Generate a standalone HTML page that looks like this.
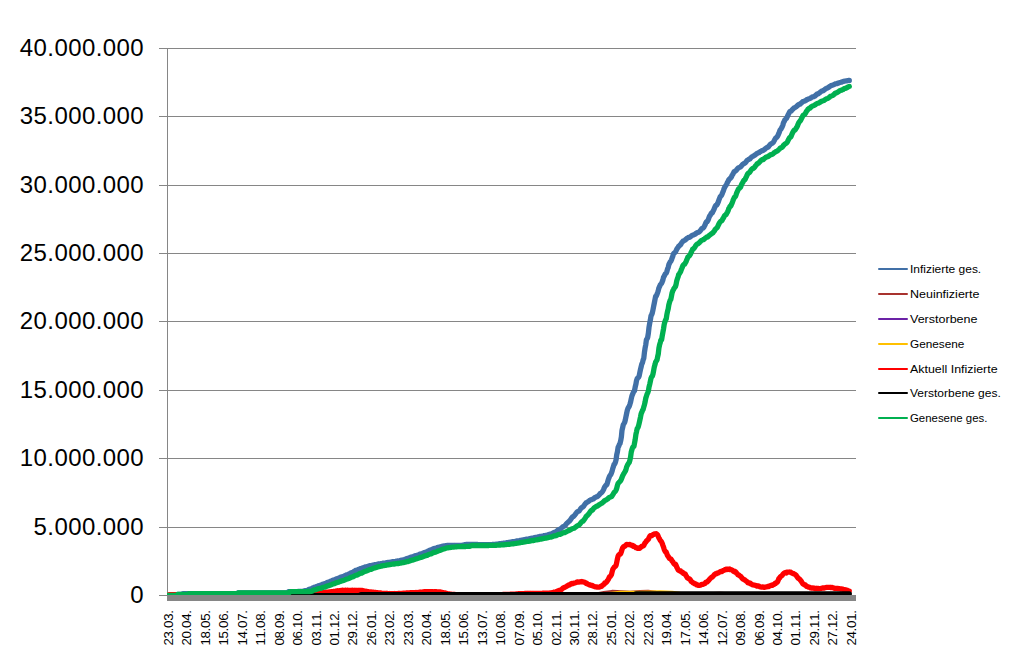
<!DOCTYPE html>
<html lang="de"><head><meta charset="utf-8"><title>Chart</title>
<style>
html,body{margin:0;padding:0;background:#fff;}
body{width:1018px;height:668px;overflow:hidden;position:relative;font-family:"Liberation Sans",sans-serif;}
svg{position:absolute;left:0;top:0;display:block;}
text{font-family:"Liberation Sans",sans-serif;fill:#000;}
.yl{font-kerning:none;font-size:24px;text-anchor:end;letter-spacing:0.42px;}
.xl{font-size:13.33px;letter-spacing:-0.3px;font-kerning:none;}
.lg{font-size:11.5px;}
.s{fill:none;stroke-width:5.3;stroke-linecap:round;stroke-linejoin:round;}
.k{fill:none;stroke-width:2;stroke-linecap:round;}
</style></head><body>
<svg width="1018" height="668" viewBox="0 0 1018 668">
<rect x="0" y="0" width="1018" height="668" fill="#ffffff"/>

<g fill="#868686" shape-rendering="crispEdges">
<rect x="159" y="48" width="697" height="1"/>
<rect x="159" y="116" width="697" height="1"/>
<rect x="159" y="185" width="697" height="1"/>
<rect x="159" y="253" width="697" height="1"/>
<rect x="159" y="321" width="697" height="1"/>
<rect x="159" y="390" width="697" height="1"/>
<rect x="159" y="458" width="697" height="1"/>
<rect x="159" y="527" width="697" height="1"/>
<rect x="159" y="595" width="697" height="1"/>
<rect x="167" y="48" width="1" height="548"/>
</g>
<clipPath id="pa"><rect x="167" y="40" width="689" height="561"/></clipPath><g clip-path="url(#pa)">
<polyline class="s" stroke="#4170A7" points="167.8,595.5 168.5,595.5 169.1,595.5 169.8,595.5 170.5,595.5 171.1,595.5 171.8,595.5 172.4,595.5 173.1,595.5 173.8,595.5 174.4,595.5 175.1,595.5 175.7,595.3 176.4,594.7 177.1,594.8 177.7,594.3 178.4,594.3 179.0,594.3 179.7,594.3 180.4,594.3 181.0,594.3 181.7,594.3 182.3,593.9 183.0,593.6 183.7,593.6 184.3,593.6 185.0,593.6 185.6,593.6 186.3,593.6 186.9,593.6 187.6,593.6 188.3,593.6 188.9,593.6 189.6,593.6 190.2,593.6 190.9,593.6 191.6,593.6 192.2,593.6 192.9,593.6 193.5,593.6 194.2,593.6 194.9,593.6 195.5,593.6 196.2,593.6 196.8,593.6 197.5,593.6 198.2,593.6 198.8,593.6 199.5,593.6 200.1,593.6 200.8,593.6 201.4,593.6 202.1,593.6 202.8,593.6 203.4,593.6 204.1,593.6 204.7,593.6 205.4,593.6 206.1,593.6 206.7,593.6 207.4,593.6 208.0,593.6 208.7,593.6 209.4,593.6 210.0,593.6 210.7,593.6 211.3,593.6 212.0,593.6 212.7,593.6 213.3,593.6 214.0,593.6 214.6,593.6 215.3,593.6 216.0,593.6 216.6,593.6 217.3,593.6 217.9,593.6 218.6,593.6 219.2,593.6 219.9,593.6 220.6,593.6 221.2,593.6 221.9,593.6 222.5,593.6 223.2,593.6 223.9,593.6 224.5,593.6 225.2,593.6 225.8,593.6 226.5,593.6 227.2,593.6 227.8,593.6 228.5,593.6 229.1,593.6 229.8,593.6 230.5,593.6 231.1,593.6 231.8,593.6 232.4,593.6 233.1,593.6 233.8,593.6 234.4,593.6 235.1,593.6 235.7,593.6 236.4,593.6 237.0,593.6 237.7,593.0 238.4,592.8 239.0,592.8 239.7,592.8 240.3,592.8 241.0,592.8 241.7,592.8 242.3,592.8 243.0,592.8 243.6,592.8 244.3,592.8 245.0,592.8 245.6,592.8 246.3,592.8 246.9,592.8 247.6,592.8 248.3,592.8 248.9,592.8 249.6,592.8 250.2,592.8 250.9,592.8 251.5,592.8 252.2,592.8 252.9,592.8 253.5,592.8 254.2,592.8 254.8,592.8 255.5,592.8 256.2,592.8 256.8,592.8 257.5,592.8 258.1,592.8 258.8,592.8 259.5,592.8 260.1,592.8 260.8,592.8 261.4,592.8 262.1,592.8 262.8,592.8 263.4,592.8 264.1,592.8 264.7,592.8 265.4,592.8 266.1,592.8 266.7,592.8 267.4,592.8 268.0,592.8 268.7,592.8 269.3,592.8 270.0,592.8 270.7,592.8 271.3,592.8 272.0,592.8 272.6,592.8 273.3,592.8 274.0,592.8 274.6,592.8 275.3,592.8 275.9,592.8 276.6,592.8 277.3,592.8 277.9,592.8 278.6,592.8 279.2,592.8 279.9,592.8 280.6,592.8 281.2,592.8 281.9,592.8 282.5,592.8 283.2,592.8 283.8,592.8 284.5,592.8 285.2,592.8 285.8,592.8 286.5,592.8 287.1,592.7 287.8,592.7 288.5,591.8 289.1,591.6 289.8,591.6 290.4,591.6 291.1,591.6 291.8,591.6 292.4,591.6 293.1,591.6 293.7,591.6 294.4,591.6 295.1,591.6 295.7,591.6 296.4,591.6 297.0,591.6 297.7,591.5 298.4,591.5 299.0,591.5 299.7,591.5 300.3,591.5 301.0,591.5 301.6,591.4 302.3,591.3 303.0,591.2 303.6,591.1 304.3,590.9 304.9,590.7 305.6,590.6 306.3,590.6 306.9,590.4 307.6,590.1 308.2,589.8 308.9,589.5 309.6,589.2 310.2,589.1 310.9,589.0 311.5,588.7 312.2,588.3 312.9,588.0 313.5,587.6 314.2,587.3 314.8,587.2 315.5,587.1 316.1,586.8 316.8,586.5 317.5,586.3 318.1,585.9 318.8,585.7 319.4,585.5 320.1,585.4 320.8,585.1 321.4,584.9 322.1,584.5 322.7,584.2 323.4,584.0 324.1,583.8 324.7,583.8 325.4,583.4 326.0,583.2 326.7,582.8 327.4,582.5 328.0,582.2 328.7,582.0 329.3,582.0 330.0,581.7 330.7,581.2 331.3,580.9 332.0,580.6 332.6,580.3 333.3,580.1 333.9,580.0 334.6,579.8 335.3,579.4 335.9,579.1 336.6,578.8 337.2,578.5 337.9,578.4 338.6,578.3 339.2,577.9 339.9,577.7 340.5,577.3 341.2,577.0 341.9,576.8 342.5,576.7 343.2,576.6 343.8,576.3 344.5,576.0 345.2,575.5 345.8,575.3 346.5,574.9 347.1,574.8 347.8,574.7 348.5,574.4 349.1,573.9 349.8,573.5 350.4,573.1 351.1,572.9 351.7,572.5 352.4,572.4 353.1,572.2 353.7,571.7 354.4,571.1 355.0,570.8 355.7,570.4 356.4,570.2 357.0,570.2 357.7,569.8 358.3,569.6 359.0,569.2 359.7,568.9 360.3,568.6 361.0,568.5 361.6,568.4 362.3,568.1 363.0,567.8 363.6,567.5 364.3,567.3 364.9,567.1 365.6,566.9 366.2,566.9 366.9,566.7 367.6,566.4 368.2,566.2 368.9,565.9 369.5,565.7 370.2,565.7 370.9,565.6 371.5,565.5 372.2,565.3 372.8,565.1 373.5,565.0 374.2,564.8 374.8,564.7 375.5,564.7 376.1,564.5 376.8,564.4 377.5,564.2 378.1,564.0 378.8,564.0 379.4,563.9 380.1,563.8 380.8,563.7 381.4,563.5 382.1,563.4 382.7,563.3 383.4,563.1 384.0,563.1 384.7,563.0 385.4,562.9 386.0,562.8 386.7,562.7 387.3,562.5 388.0,562.4 388.7,562.4 389.3,562.3 390.0,562.2 390.6,562.1 391.3,562.0 392.0,561.8 392.6,561.7 393.3,561.7 393.9,561.6 394.6,561.5 395.3,561.4 395.9,561.3 396.6,561.1 397.2,561.0 397.9,561.0 398.6,560.9 399.2,560.8 399.9,560.6 400.5,560.4 401.2,560.2 401.8,560.1 402.5,560.0 403.2,559.9 403.8,559.7 404.5,559.5 405.1,559.2 405.8,559.0 406.5,558.7 407.1,558.6 407.8,558.4 408.4,558.3 409.1,558.0 409.8,557.6 410.4,557.3 411.1,557.1 411.7,557.0 412.4,556.8 413.1,556.6 413.7,556.4 414.4,556.0 415.0,555.8 415.7,555.6 416.3,555.5 417.0,555.3 417.7,555.2 418.3,554.9 419.0,554.6 419.6,554.2 420.3,554.1 421.0,553.9 421.6,553.7 422.3,553.5 422.9,553.2 423.6,552.9 424.3,552.7 424.9,552.3 425.6,552.2 426.2,552.0 426.9,551.7 427.6,551.5 428.2,550.9 428.9,550.6 429.5,550.3 430.2,550.1 430.9,550.0 431.5,549.7 432.2,549.3 432.8,549.0 433.5,548.7 434.1,548.5 434.8,548.3 435.5,548.3 436.1,548.0 436.8,547.8 437.4,547.6 438.1,547.3 438.8,547.2 439.4,547.1 440.1,546.9 440.7,546.7 441.4,546.5 442.1,546.3 442.7,546.1 443.4,546.0 444.0,545.9 444.7,545.9 445.4,545.8 446.0,545.6 446.7,545.5 447.3,545.5 448.0,545.5 448.6,545.5 449.3,545.5 450.0,545.5 450.6,545.5 451.3,545.5 451.9,545.5 452.6,545.5 453.3,545.5 453.9,545.5 454.6,545.5 455.2,545.4 455.9,545.4 456.6,545.4 457.2,545.4 457.9,545.4 458.5,545.4 459.2,545.4 459.9,545.4 460.5,545.4 461.2,545.3 461.8,545.3 462.5,545.2 463.2,545.2 463.8,545.1 464.5,544.8 465.1,544.6 465.8,544.5 466.4,544.5 467.1,544.5 467.8,544.5 468.4,544.5 469.1,544.5 469.7,544.5 470.4,544.5 471.1,544.5 471.7,544.5 472.4,544.5 473.0,544.5 473.7,544.5 474.4,544.5 475.0,544.5 475.7,544.5 476.3,544.5 477.0,544.5 477.7,544.5 478.3,544.6 479.0,544.6 479.6,544.6 480.3,544.6 481.0,544.6 481.6,544.6 482.3,544.6 482.9,544.6 483.6,544.6 484.2,544.6 484.9,544.6 485.6,544.6 486.2,544.6 486.9,544.6 487.5,544.6 488.2,544.6 488.9,544.6 489.5,544.6 490.2,544.6 490.8,544.6 491.5,544.6 492.2,544.5 492.8,544.5 493.5,544.4 494.1,544.4 494.8,544.3 495.5,544.3 496.1,544.2 496.8,544.1 497.4,544.0 498.1,543.9 498.7,543.8 499.4,543.7 500.1,543.7 500.7,543.6 501.4,543.5 502.0,543.4 502.7,543.3 503.4,543.2 504.0,543.1 504.7,543.1 505.3,543.0 506.0,542.9 506.7,542.7 507.3,542.6 508.0,542.5 508.6,542.4 509.3,542.4 510.0,542.3 510.6,542.1 511.3,542.0 511.9,541.8 512.6,541.7 513.3,541.7 513.9,541.6 514.6,541.5 515.2,541.4 515.9,541.2 516.5,541.1 517.2,540.9 517.9,540.8 518.5,540.8 519.2,540.7 519.8,540.6 520.5,540.3 521.2,540.2 521.8,540.1 522.5,540.0 523.1,540.0 523.8,539.8 524.5,539.6 525.1,539.5 525.8,539.3 526.4,539.2 527.1,539.1 527.8,539.1 528.4,539.0 529.1,538.8 529.7,538.6 530.4,538.5 531.0,538.3 531.7,538.3 532.4,538.1 533.0,538.0 533.7,537.9 534.3,537.7 535.0,537.6 535.7,537.4 536.3,537.3 537.0,537.2 537.6,537.1 538.3,536.9 539.0,536.7 539.6,536.6 540.3,536.4 540.9,536.4 541.6,536.3 542.3,536.2 542.9,536.0 543.6,535.8 544.2,535.6 544.9,535.5 545.6,535.4 546.2,535.4 546.9,535.2 547.5,535.0 548.2,534.7 548.8,534.5 549.5,534.3 550.2,534.2 550.8,534.0 551.5,533.8 552.1,533.5 552.8,533.1 553.5,532.8 554.1,532.4 554.8,532.3 555.4,532.0 556.1,531.7 556.8,531.2 557.4,530.6 558.1,530.0 558.7,529.7 559.4,529.4 560.1,529.3 560.7,528.8 561.4,528.1 562.0,527.5 562.7,526.9 563.4,526.4 564.0,526.2 564.7,526.0 565.3,525.2 566.0,524.4 566.6,523.5 567.3,522.8 568.0,522.3 568.6,521.6 569.3,521.5 569.9,520.5 570.6,519.6 571.3,518.5 571.9,517.8 572.6,516.8 573.2,516.7 573.9,515.9 574.6,515.3 575.2,514.4 575.9,513.4 576.5,512.7 577.2,511.8 577.9,511.3 578.5,511.3 579.2,510.8 579.8,510.0 580.5,509.0 581.1,508.0 581.8,507.6 582.5,507.1 583.1,506.8 583.8,506.0 584.4,505.0 585.1,504.0 585.8,503.2 586.4,502.5 587.1,502.3 587.7,501.9 588.4,501.5 589.1,500.9 589.7,500.4 590.4,500.0 591.0,499.6 591.7,499.6 592.4,499.3 593.0,499.1 593.7,498.7 594.3,498.0 595.0,497.5 595.7,497.2 596.3,496.9 597.0,496.7 597.6,496.3 598.3,495.8 598.9,495.1 599.6,494.4 600.3,493.4 600.9,493.1 601.6,492.6 602.2,491.9 602.9,490.8 603.6,489.5 604.2,487.9 604.9,486.6 605.5,485.8 606.2,485.0 606.9,484.5 607.5,482.4 608.2,479.9 608.8,478.3 609.5,476.3 610.2,475.2 610.8,474.7 611.5,472.8 612.1,471.1 612.8,468.4 613.4,466.7 614.1,464.3 614.8,463.8 615.4,462.3 616.1,459.6 616.7,454.8 617.4,451.8 618.1,447.3 618.7,446.2 619.4,444.4 620.0,443.5 620.7,440.7 621.4,436.8 622.0,430.3 622.7,427.3 623.3,424.7 624.0,423.6 624.7,422.3 625.3,420.0 626.0,416.5 626.6,413.6 627.3,410.4 628.0,408.2 628.6,407.3 629.3,406.1 629.9,404.3 630.6,402.0 631.2,399.0 631.9,396.0 632.6,394.2 633.2,392.7 633.9,391.5 634.5,390.8 635.2,387.0 635.9,384.2 636.5,380.6 637.2,378.7 637.8,377.9 638.5,377.3 639.2,375.8 639.8,372.7 640.5,369.4 641.1,367.0 641.8,364.0 642.5,362.7 643.1,360.0 643.8,358.2 644.4,352.7 645.1,348.0 645.8,344.4 646.4,339.8 647.1,338.8 647.7,337.2 648.4,333.0 649.0,327.4 649.7,323.3 650.4,319.8 651.0,315.9 651.7,314.7 652.3,313.0 653.0,309.7 653.7,306.0 654.3,303.1 655.0,299.6 655.6,296.4 656.3,296.0 657.0,294.2 657.6,292.6 658.3,290.5 658.9,287.9 659.6,286.6 660.3,284.8 660.9,284.0 661.6,283.3 662.2,281.9 662.9,280.0 663.5,277.4 664.2,276.2 664.9,274.7 665.5,273.6 666.2,273.1 666.8,271.7 667.5,269.1 668.2,267.4 668.8,264.7 669.5,263.3 670.1,262.1 670.8,261.3 671.5,259.9 672.1,258.0 672.8,256.2 673.4,254.1 674.1,253.1 674.8,252.6 675.4,252.0 676.1,250.7 676.7,249.4 677.4,248.2 678.1,247.2 678.7,246.3 679.4,245.9 680.0,245.0 680.7,244.7 681.3,243.4 682.0,242.3 682.7,241.7 683.3,240.9 684.0,240.6 684.6,240.3 685.3,239.9 686.0,239.3 686.6,238.7 687.3,238.1 687.9,237.8 688.6,237.4 689.3,237.4 689.9,237.1 690.6,236.6 691.2,236.0 691.9,235.6 692.6,235.1 693.2,235.0 693.9,234.7 694.5,234.5 695.2,234.1 695.8,233.5 696.5,233.2 697.2,232.6 697.8,232.5 698.5,232.3 699.1,232.0 699.8,231.2 700.5,230.4 701.1,229.6 701.8,228.7 702.4,228.4 703.1,228.1 703.8,227.3 704.4,226.1 705.1,224.7 705.7,223.1 706.4,221.9 707.1,221.7 707.7,220.8 708.4,219.3 709.0,217.5 709.7,215.9 710.4,215.1 711.0,213.8 711.7,212.8 712.3,212.8 713.0,211.3 713.6,210.2 714.3,208.6 715.0,206.8 715.6,205.5 716.3,205.5 716.9,204.9 717.6,203.5 718.3,201.9 718.9,199.9 719.6,198.2 720.2,196.8 720.9,196.0 721.6,195.2 722.2,193.8 722.9,191.9 723.5,190.4 724.2,188.3 724.9,187.0 725.5,186.0 726.2,185.0 726.8,184.0 727.5,182.2 728.2,181.1 728.8,179.7 729.5,178.9 730.1,178.5 730.8,177.6 731.4,177.1 732.1,175.3 732.8,174.3 733.4,173.1 734.1,171.7 734.7,171.6 735.4,170.9 736.1,170.6 736.7,169.7 737.4,168.8 738.0,168.2 738.7,167.7 739.4,167.4 740.0,167.1 740.7,166.7 741.3,166.0 742.0,165.2 742.7,164.3 743.3,164.0 744.0,163.4 744.6,163.3 745.3,162.7 745.9,162.0 746.6,161.1 747.3,160.3 747.9,159.9 748.6,159.4 749.2,159.3 749.9,158.9 750.6,158.1 751.2,157.4 751.9,156.8 752.5,156.5 753.2,156.1 753.9,155.8 754.5,155.3 755.2,155.0 755.8,154.4 756.5,153.8 757.2,153.4 757.8,153.1 758.5,152.8 759.1,152.6 759.8,151.9 760.5,151.6 761.1,151.1 761.8,150.8 762.4,150.6 763.1,150.4 763.7,150.1 764.4,149.5 765.1,149.0 765.7,148.3 766.4,147.8 767.0,147.6 767.7,147.3 768.4,146.9 769.0,145.9 769.7,145.2 770.3,144.4 771.0,143.9 771.7,143.4 772.3,143.2 773.0,142.6 773.6,141.8 774.3,140.5 775.0,139.1 775.6,138.2 776.3,137.7 776.9,137.0 777.6,136.2 778.2,134.9 778.9,133.3 779.6,131.3 780.2,129.9 780.9,129.2 781.5,128.1 782.2,126.7 782.9,125.0 783.5,122.6 784.2,121.5 784.8,120.0 785.5,119.2 786.2,118.6 786.8,117.8 787.5,116.2 788.1,115.0 788.8,113.5 789.5,112.2 790.1,111.4 790.8,111.4 791.4,110.8 792.1,109.8 792.8,109.2 793.4,108.5 794.1,107.8 794.7,107.7 795.4,107.3 796.0,106.9 796.7,106.3 797.4,105.6 798.0,105.1 798.7,104.5 799.3,104.3 800.0,104.2 800.7,103.6 801.3,103.1 802.0,102.4 802.6,101.8 803.3,101.5 804.0,101.3 804.6,101.1 805.3,100.7 805.9,100.4 806.6,99.8 807.3,99.5 807.9,99.1 808.6,99.0 809.2,98.7 809.9,98.5 810.6,98.1 811.2,97.6 811.9,97.3 812.5,96.9 813.2,96.7 813.8,96.7 814.5,96.3 815.2,95.9 815.8,95.1 816.5,94.7 817.1,94.0 817.8,94.0 818.5,93.5 819.1,93.1 819.8,92.7 820.4,92.1 821.1,91.5 821.8,91.1 822.4,90.9 823.1,90.7 823.7,90.3 824.4,89.9 825.1,89.2 825.7,88.7 826.4,88.4 827.0,88.1 827.7,87.9 828.3,87.5 829.0,87.0 829.7,86.4 830.3,86.1 831.0,85.6 831.6,85.4 832.3,85.2 833.0,85.0 833.6,84.8 834.3,84.4 834.9,84.1 835.6,83.8 836.3,83.7 836.9,83.6 837.6,83.4 838.2,83.1 838.9,82.9 839.6,82.6 840.2,82.3 840.9,82.3 841.5,82.1 842.2,81.9 842.9,81.6 843.5,81.4 844.2,81.2 844.8,81.1 845.5,81.0 846.1,80.9 846.8,80.8 847.5,80.7 848.1,80.5 848.8,80.4 849.3,80.4"/>
<polyline class="s" stroke="#A8322E" points="167.0,595.5 595.0,595.3 604.0,593.7 612.0,592.5 622.0,592.9 630.0,593.5 640.0,592.7 648.0,592.5 656.0,593.5 668.0,594.7 690.0,595.0 700.0,595.1 720.0,594.5 740.0,595.3 770.0,595.4 790.0,594.8 810.0,595.1 848.3,595.3"/>
<polyline class="s" stroke="#6B22A6" points="167.0,595.5 848.3,595.5"/>
<polyline class="s" stroke="#FFC000" points="167.0,595.5 600.0,595.4 612.0,594.3 620.0,593.5 632.0,593.3 640.0,593.5 650.0,593.1 660.0,592.9 672.0,593.3 680.0,594.3 690.0,595.3 705.0,595.4 725.0,594.7 745.0,595.1 770.0,595.0 795.0,594.9 815.0,595.1 848.3,595.3"/>
<polyline class="s" stroke="#FF0000" points="167.8,595.6 168.5,595.5 169.1,595.0 169.8,594.6 170.5,594.6 171.1,594.6 171.8,594.6 172.4,594.6 173.1,594.6 173.8,594.6 174.4,594.6 175.1,594.6 175.7,594.6 176.4,594.8 177.1,595.0 177.7,595.4 178.4,595.4 179.0,595.4 179.7,595.4 180.4,595.4 181.0,595.4 181.7,595.4 182.3,595.4 183.0,595.5 183.7,595.5 184.3,595.5 185.0,595.5 185.6,595.5 186.3,595.5 186.9,595.5 187.6,595.5 188.3,595.5 188.9,595.5 189.6,595.5 190.2,595.5 190.9,595.5 191.6,595.5 192.2,595.5 192.9,595.5 193.5,595.5 194.2,595.5 194.9,595.5 195.5,595.5 196.2,595.5 196.8,595.5 197.5,595.5 198.2,595.5 198.8,595.5 199.5,595.5 200.1,595.5 200.8,595.5 201.4,595.5 202.1,595.5 202.8,595.5 203.4,595.5 204.1,595.5 204.7,595.5 205.4,595.5 206.1,595.5 206.7,595.5 207.4,595.5 208.0,595.5 208.7,595.5 209.4,595.5 210.0,595.5 210.7,595.5 211.3,595.5 212.0,595.5 212.7,595.5 213.3,595.5 214.0,595.5 214.6,595.5 215.3,595.5 216.0,595.5 216.6,595.5 217.3,595.5 217.9,595.5 218.6,595.5 219.2,595.5 219.9,595.5 220.6,595.5 221.2,595.5 221.9,595.5 222.5,595.5 223.2,595.5 223.9,595.5 224.5,595.5 225.2,595.5 225.8,595.5 226.5,595.5 227.2,595.5 227.8,595.5 228.5,595.5 229.1,595.5 229.8,595.5 230.5,595.5 231.1,595.5 231.8,595.5 232.4,595.5 233.1,595.5 233.8,595.5 234.4,595.5 235.1,595.5 235.7,595.5 236.4,595.5 237.0,595.4 237.7,595.4 238.4,595.4 239.0,595.4 239.7,595.4 240.3,595.4 241.0,595.4 241.7,595.4 242.3,595.4 243.0,595.4 243.6,595.4 244.3,595.4 245.0,595.4 245.6,595.4 246.3,595.4 246.9,595.4 247.6,595.4 248.3,595.4 248.9,595.4 249.6,595.4 250.2,595.4 250.9,595.4 251.5,595.4 252.2,595.4 252.9,595.4 253.5,595.4 254.2,595.4 254.8,595.4 255.5,595.4 256.2,595.4 256.8,595.4 257.5,595.4 258.1,595.4 258.8,595.4 259.5,595.3 260.1,595.4 260.8,595.3 261.4,595.3 262.1,595.3 262.8,595.3 263.4,595.3 264.1,595.3 264.7,595.3 265.4,595.3 266.1,595.3 266.7,595.3 267.4,595.3 268.0,595.3 268.7,595.3 269.3,595.3 270.0,595.3 270.7,595.3 271.3,595.3 272.0,595.3 272.6,595.3 273.3,595.3 274.0,595.3 274.6,595.3 275.3,595.2 275.9,595.2 276.6,595.2 277.3,595.2 277.9,595.2 278.6,595.2 279.2,595.2 279.9,595.2 280.6,595.2 281.2,595.2 281.9,595.2 282.5,595.2 283.2,595.2 283.8,595.2 284.5,595.2 285.2,595.2 285.8,595.1 286.5,595.2 287.1,595.1 287.8,595.1 288.5,595.1 289.1,595.1 289.8,595.1 290.4,595.1 291.1,595.1 291.8,595.1 292.4,595.1 293.1,595.1 293.7,595.1 294.4,595.1 295.1,595.1 295.7,595.1 296.4,595.0 297.0,595.0 297.7,595.0 298.4,595.0 299.0,595.0 299.7,595.0 300.3,595.0 301.0,595.0 301.6,595.0 302.3,594.9 303.0,594.9 303.6,594.9 304.3,594.8 304.9,594.8 305.6,594.7 306.3,594.7 306.9,594.7 307.6,594.6 308.2,594.5 308.9,594.4 309.6,594.4 310.2,594.3 310.9,594.3 311.5,594.2 312.2,594.2 312.9,594.1 313.5,594.0 314.2,593.9 314.8,593.9 315.5,593.8 316.1,593.7 316.8,593.5 317.5,593.3 318.1,593.3 318.8,593.2 319.4,593.2 320.1,593.0 320.8,593.0 321.4,593.0 322.1,592.8 322.7,592.7 323.4,592.7 324.1,592.5 324.7,592.5 325.4,592.5 326.0,592.4 326.7,592.3 327.4,592.1 328.0,592.1 328.7,592.0 329.3,592.0 330.0,592.0 330.7,591.8 331.3,591.7 332.0,591.8 332.6,591.7 333.3,591.5 333.9,591.5 334.6,591.4 335.3,591.3 335.9,591.2 336.6,590.9 337.2,591.0 337.9,590.7 338.6,590.9 339.2,590.8 339.9,590.6 340.5,590.5 341.2,590.4 341.9,590.4 342.5,590.2 343.2,590.3 343.8,590.4 344.5,590.4 345.2,590.2 345.8,590.2 346.5,590.4 347.1,590.3 347.8,590.2 348.5,590.4 349.1,590.3 349.8,590.4 350.4,590.3 351.1,590.3 351.7,590.3 352.4,590.2 353.1,590.4 353.7,590.4 354.4,590.4 355.0,590.5 355.7,590.3 356.4,590.5 357.0,590.5 357.7,590.4 358.3,590.5 359.0,590.4 359.7,590.6 360.3,590.4 361.0,590.6 361.6,590.5 362.3,590.5 363.0,590.8 363.6,590.9 364.3,591.1 364.9,591.2 365.6,591.3 366.2,591.2 366.9,591.4 367.6,591.5 368.2,591.7 368.9,591.8 369.5,591.9 370.2,592.0 370.9,591.9 371.5,592.0 372.2,592.1 372.8,592.1 373.5,592.3 374.2,592.3 374.8,592.3 375.5,592.4 376.1,592.5 376.8,592.6 377.5,592.7 378.1,592.8 378.8,592.9 379.4,592.9 380.1,593.0 380.8,593.0 381.4,593.2 382.1,593.3 382.7,593.4 383.4,593.4 384.0,593.5 384.7,593.4 385.4,593.4 386.0,593.5 386.7,593.5 387.3,593.4 388.0,593.5 388.7,593.6 389.3,593.5 390.0,593.6 390.6,593.6 391.3,593.6 392.0,593.6 392.6,593.6 393.3,593.6 393.9,593.6 394.6,593.5 395.3,593.6 395.9,593.6 396.6,593.6 397.2,593.6 397.9,593.5 398.6,593.5 399.2,593.5 399.9,593.4 400.5,593.5 401.2,593.4 401.8,593.3 402.5,593.3 403.2,593.2 403.8,593.2 404.5,593.2 405.1,593.1 405.8,593.0 406.5,592.9 407.1,593.0 407.8,592.9 408.4,592.9 409.1,592.8 409.8,592.8 410.4,592.7 411.1,592.7 411.7,592.7 412.4,592.7 413.1,592.6 413.7,592.7 414.4,592.6 415.0,592.6 415.7,592.5 416.3,592.5 417.0,592.6 417.7,592.5 418.3,592.4 419.0,592.4 419.6,592.2 420.3,592.3 421.0,592.1 421.6,592.1 422.3,592.1 422.9,591.8 423.6,591.8 424.3,591.7 424.9,591.8 425.6,591.7 426.2,591.7 426.9,591.6 427.6,591.7 428.2,591.7 428.9,591.7 429.5,591.7 430.2,591.6 430.9,591.7 431.5,591.7 432.2,591.7 432.8,591.8 433.5,591.8 434.1,591.7 434.8,591.7 435.5,591.8 436.1,591.7 436.8,591.8 437.4,591.8 438.1,591.8 438.8,591.8 439.4,591.8 440.1,591.9 440.7,592.0 441.4,592.2 442.1,592.4 442.7,592.6 443.4,592.7 444.0,592.9 444.7,592.9 445.4,593.1 446.0,593.3 446.7,593.4 447.3,593.6 448.0,593.8 448.6,593.8 449.3,593.9 450.0,594.0 450.6,594.1 451.3,594.3 451.9,594.4 452.6,594.4 453.3,594.5 453.9,594.4 454.6,594.5 455.2,594.5 455.9,594.6 456.6,594.6 457.2,594.7 457.9,594.7 458.5,594.7 459.2,594.7 459.9,594.8 460.5,594.8 461.2,594.8 461.8,594.8 462.5,594.9 463.2,594.9 463.8,594.9 464.5,594.9 465.1,594.9 465.8,595.0 466.4,595.0 467.1,595.0 467.8,595.0 468.4,595.0 469.1,595.0 469.7,595.0 470.4,595.0 471.1,595.0 471.7,595.0 472.4,595.0 473.0,595.0 473.7,595.0 474.4,595.0 475.0,595.0 475.7,595.0 476.3,595.0 477.0,595.0 477.7,595.0 478.3,595.0 479.0,594.9 479.6,595.0 480.3,594.9 481.0,594.9 481.6,594.9 482.3,594.9 482.9,594.9 483.6,594.9 484.2,594.9 484.9,594.9 485.6,594.9 486.2,594.9 486.9,594.9 487.5,594.8 488.2,594.8 488.9,594.8 489.5,594.8 490.2,594.8 490.8,594.8 491.5,594.8 492.2,594.8 492.8,594.7 493.5,594.7 494.1,594.7 494.8,594.7 495.5,594.7 496.1,594.7 496.8,594.7 497.4,594.6 498.1,594.6 498.7,594.6 499.4,594.6 500.1,594.6 500.7,594.6 501.4,594.6 502.0,594.6 502.7,594.5 503.4,594.5 504.0,594.5 504.7,594.5 505.3,594.5 506.0,594.4 506.7,594.4 507.3,594.4 508.0,594.3 508.6,594.3 509.3,594.3 510.0,594.3 510.6,594.2 511.3,594.2 511.9,594.2 512.6,594.2 513.3,594.2 513.9,594.1 514.6,594.1 515.2,594.0 515.9,593.9 516.5,593.8 517.2,593.8 517.9,593.8 518.5,593.7 519.2,593.6 519.8,593.6 520.5,593.6 521.2,593.6 521.8,593.6 522.5,593.6 523.1,593.6 523.8,593.6 524.5,593.5 525.1,593.5 525.8,593.5 526.4,593.5 527.1,593.5 527.8,593.5 528.4,593.4 529.1,593.5 529.7,593.4 530.4,593.5 531.0,593.4 531.7,593.5 532.4,593.4 533.0,593.5 533.7,593.4 534.3,593.4 535.0,593.4 535.7,593.4 536.3,593.4 537.0,593.4 537.6,593.4 538.3,593.4 539.0,593.3 539.6,593.3 540.3,593.3 540.9,593.3 541.6,593.3 542.3,593.3 542.9,593.2 543.6,593.3 544.2,593.2 544.9,593.1 545.6,593.2 546.2,593.1 546.9,593.2 547.5,593.1 548.2,593.1 548.8,593.1 549.5,593.0 550.2,592.9 550.8,592.9 551.5,592.8 552.1,592.8 552.8,592.5 553.5,592.3 554.1,592.1 554.8,592.1 555.4,592.0 556.1,591.8 556.8,591.5 557.4,591.1 558.1,590.8 558.7,590.5 559.4,590.5 560.1,590.2 560.7,590.1 561.4,589.6 562.0,589.0 562.7,588.3 563.4,587.9 564.0,587.6 564.7,587.4 565.3,587.0 566.0,586.8 566.6,586.3 567.3,585.9 568.0,585.4 568.6,585.0 569.3,585.2 569.9,584.6 570.6,584.0 571.3,584.1 571.9,583.5 572.6,583.7 573.2,583.5 573.9,583.1 574.6,583.0 575.2,582.9 575.9,582.6 576.5,582.3 577.2,582.0 577.9,582.0 578.5,582.2 579.2,581.9 579.8,581.9 580.5,581.9 581.1,581.6 581.8,581.5 582.5,581.9 583.1,581.8 583.8,582.1 584.4,582.1 585.1,582.5 585.8,583.1 586.4,583.7 587.1,583.5 587.7,584.1 588.4,584.4 589.1,584.7 589.7,585.1 590.4,585.0 591.0,585.2 591.7,585.5 592.4,585.5 593.0,585.9 593.7,586.4 594.3,586.4 595.0,586.9 595.7,586.9 596.3,586.8 597.0,587.1 597.6,587.1 598.3,587.1 598.9,587.1 599.6,587.1 600.3,586.6 600.9,586.2 601.6,586.3 602.2,585.5 602.9,585.1 603.6,584.4 604.2,584.2 604.9,582.8 605.5,582.9 606.2,582.4 606.9,581.5 607.5,580.7 608.2,579.6 608.8,578.3 609.5,576.7 610.2,576.5 610.8,575.6 611.5,574.5 612.1,571.9 612.8,569.4 613.4,568.4 614.1,567.3 614.8,566.7 615.4,566.4 616.1,565.2 616.7,562.5 617.4,559.0 618.1,556.2 618.7,555.0 619.4,554.3 620.0,554.4 620.7,553.7 621.4,551.7 622.0,549.6 622.7,547.8 623.3,547.0 624.0,546.5 624.7,546.2 625.3,545.8 626.0,545.0 626.6,544.4 627.3,544.7 628.0,544.5 628.6,544.6 629.3,544.5 629.9,544.4 630.6,545.0 631.2,545.0 631.9,545.6 632.6,545.4 633.2,546.3 633.9,546.0 634.5,546.6 635.2,547.1 635.9,547.7 636.5,547.8 637.2,547.9 637.8,548.4 638.5,548.1 639.2,548.4 639.8,548.2 640.5,547.5 641.1,547.1 641.8,546.3 642.5,546.1 643.1,546.1 643.8,545.5 644.4,544.1 645.1,542.8 645.8,542.1 646.4,541.1 647.1,540.5 647.7,539.8 648.4,539.2 649.0,537.7 649.7,536.4 650.4,535.7 651.0,535.6 651.7,535.6 652.3,535.1 653.0,534.6 653.7,534.4 654.3,533.8 655.0,533.9 655.6,533.8 656.3,533.7 657.0,534.3 657.6,534.9 658.3,536.5 658.9,537.9 659.6,539.0 660.3,540.5 660.9,541.0 661.6,542.0 662.2,543.3 662.9,545.4 663.5,547.0 664.2,549.3 664.9,550.8 665.5,551.8 666.2,552.0 666.8,553.8 667.5,555.5 668.2,556.5 668.8,557.2 669.5,558.6 670.1,558.8 670.8,559.0 671.5,559.9 672.1,561.2 672.8,561.7 673.4,562.9 674.1,563.8 674.8,564.4 675.4,564.2 676.1,565.4 676.7,567.0 677.4,568.4 678.1,569.8 678.7,570.4 679.4,570.7 680.0,571.0 680.7,571.0 681.3,572.0 682.0,572.2 682.7,572.4 683.3,573.4 684.0,573.6 684.6,573.9 685.3,574.1 686.0,575.6 686.6,576.5 687.3,577.8 687.9,578.1 688.6,578.6 689.3,578.8 689.9,579.3 690.6,580.3 691.2,581.4 691.9,581.8 692.6,582.3 693.2,583.0 693.9,583.1 694.5,583.6 695.2,583.6 695.8,584.0 696.5,584.9 697.2,584.6 697.8,585.2 698.5,585.4 699.1,585.4 699.8,585.3 700.5,585.1 701.1,584.8 701.8,584.4 702.4,584.4 703.1,584.3 703.8,583.8 704.4,583.8 705.1,583.4 705.7,582.4 706.4,582.0 707.1,581.9 707.7,581.4 708.4,580.7 709.0,580.1 709.7,579.1 710.4,578.4 711.0,577.8 711.7,577.1 712.3,577.1 713.0,576.2 713.6,575.7 714.3,574.6 715.0,574.4 715.6,573.7 716.3,573.9 716.9,573.2 717.6,573.3 718.3,572.9 718.9,572.6 719.6,572.0 720.2,571.7 720.9,571.4 721.6,571.6 722.2,571.3 722.9,570.7 723.5,570.3 724.2,570.3 724.9,569.7 725.5,569.3 726.2,569.2 726.8,569.5 727.5,569.2 728.2,569.1 728.8,569.1 729.5,569.0 730.1,569.7 730.8,569.5 731.4,569.8 732.1,570.1 732.8,570.4 733.4,571.3 734.1,571.7 734.7,571.3 735.4,571.6 736.1,572.3 736.7,573.4 737.4,573.8 738.0,574.8 738.7,575.0 739.4,575.5 740.0,576.0 740.7,576.4 741.3,577.1 742.0,578.0 742.7,578.9 743.3,579.3 744.0,579.5 744.6,579.7 745.3,580.5 745.9,580.8 746.6,581.3 747.3,581.9 747.9,582.8 748.6,583.0 749.2,582.8 749.9,583.0 750.6,583.5 751.2,584.2 751.9,584.3 752.5,584.8 753.2,584.9 753.9,585.0 754.5,585.2 755.2,585.3 755.8,585.3 756.5,585.9 757.2,586.2 757.8,586.1 758.5,585.9 759.1,586.4 759.8,586.7 760.5,586.9 761.1,586.9 761.8,587.2 762.4,586.9 763.1,587.1 763.7,587.3 764.4,587.3 765.1,587.2 765.7,587.0 766.4,586.9 767.0,586.7 767.7,586.5 768.4,586.7 769.0,586.3 769.7,585.9 770.3,585.7 771.0,585.3 771.7,585.2 772.3,585.4 773.0,584.9 773.6,584.5 774.3,584.4 775.0,583.3 775.6,583.4 776.3,582.6 776.9,582.5 777.6,581.7 778.2,580.3 778.9,578.6 779.6,578.0 780.2,576.9 780.9,576.3 781.5,576.0 782.2,575.3 782.9,574.3 783.5,573.7 784.2,573.1 784.8,572.7 785.5,572.9 786.2,573.0 786.8,572.1 787.5,572.2 788.1,572.1 788.8,572.2 789.5,572.0 790.1,572.1 790.8,572.2 791.4,572.7 792.1,573.1 792.8,573.5 793.4,573.5 794.1,574.0 794.7,574.2 795.4,574.7 796.0,575.0 796.7,576.3 797.4,577.3 798.0,578.0 798.7,578.5 799.3,579.0 800.0,579.6 800.7,580.5 801.3,581.2 802.0,582.5 802.6,583.5 803.3,584.0 804.0,584.5 804.6,584.8 805.3,584.9 805.9,585.5 806.6,586.5 807.3,586.6 807.9,586.8 808.6,587.2 809.2,587.2 809.9,587.3 810.6,587.9 811.2,587.9 811.9,588.2 812.5,588.0 813.2,588.0 813.8,588.4 814.5,588.2 815.2,588.5 815.8,588.4 816.5,588.6 817.1,588.3 817.8,588.4 818.5,588.6 819.1,588.7 819.8,588.6 820.4,588.5 821.1,588.4 821.8,588.4 822.4,588.0 823.1,588.0 823.7,588.0 824.4,588.0 825.1,587.8 825.7,587.5 826.4,587.4 827.0,587.4 827.7,587.4 828.3,587.3 829.0,587.4 829.7,587.4 830.3,587.5 831.0,587.4 831.6,587.7 832.3,587.5 833.0,587.7 833.6,587.9 834.3,588.3 834.9,588.4 835.6,588.4 836.3,588.4 836.9,588.3 837.6,588.5 838.2,588.5 838.9,588.7 839.6,588.7 840.2,589.0 840.9,589.0 841.5,589.0 842.2,589.0 842.9,589.1 843.5,589.5 844.2,589.7 844.8,589.8 845.5,590.0 846.1,589.9 846.8,590.2 847.5,590.4 848.1,590.8 848.8,591.0 849.3,591.1"/>
<polyline class="s" stroke="#000000" points="167.0,596.0 311.0,596.0 313.0,595.6 359.0,595.6 361.0,594.7 634.0,594.7 636.0,593.8 849.3,593.8"/>
<polyline class="s" stroke="#00B050" points="167.8,595.5 168.5,595.5 169.1,595.5 169.8,595.5 170.5,595.5 171.1,595.5 171.8,595.5 172.4,595.5 173.1,595.5 173.8,595.5 174.4,595.5 175.1,595.5 175.7,595.5 176.4,595.4 177.1,595.3 177.7,594.3 178.4,594.3 179.0,594.3 179.7,594.3 180.4,594.3 181.0,594.3 181.7,594.3 182.3,594.3 183.0,594.3 183.7,594.3 184.3,594.3 185.0,594.3 185.6,594.3 186.3,594.3 186.9,594.3 187.6,594.3 188.3,594.3 188.9,593.7 189.6,593.6 190.2,593.6 190.9,593.6 191.6,593.6 192.2,593.6 192.9,593.6 193.5,593.6 194.2,593.6 194.9,593.6 195.5,593.6 196.2,593.6 196.8,593.6 197.5,593.6 198.2,593.6 198.8,593.6 199.5,593.6 200.1,593.6 200.8,593.6 201.4,593.6 202.1,593.6 202.8,593.6 203.4,593.6 204.1,593.6 204.7,593.6 205.4,593.6 206.1,593.6 206.7,593.6 207.4,593.6 208.0,593.6 208.7,593.6 209.4,593.6 210.0,593.6 210.7,593.6 211.3,593.6 212.0,593.6 212.7,593.6 213.3,593.6 214.0,593.6 214.6,593.6 215.3,593.6 216.0,593.6 216.6,593.6 217.3,593.6 217.9,593.6 218.6,593.6 219.2,593.6 219.9,593.6 220.6,593.6 221.2,593.6 221.9,593.6 222.5,593.6 223.2,593.6 223.9,593.6 224.5,593.6 225.2,593.6 225.8,593.6 226.5,593.6 227.2,593.6 227.8,593.6 228.5,593.6 229.1,593.6 229.8,593.6 230.5,593.6 231.1,593.6 231.8,593.6 232.4,593.6 233.1,593.6 233.8,593.6 234.4,593.6 235.1,593.6 235.7,593.6 236.4,593.6 237.0,593.6 237.7,593.4 238.4,592.9 239.0,592.8 239.7,592.8 240.3,592.8 241.0,592.8 241.7,592.8 242.3,592.8 243.0,592.8 243.6,592.8 244.3,592.8 245.0,592.8 245.6,592.8 246.3,592.8 246.9,592.8 247.6,592.8 248.3,592.8 248.9,592.8 249.6,592.8 250.2,592.8 250.9,592.8 251.5,592.8 252.2,592.8 252.9,592.8 253.5,592.8 254.2,592.8 254.8,592.8 255.5,592.8 256.2,592.8 256.8,592.8 257.5,592.8 258.1,592.8 258.8,592.8 259.5,592.8 260.1,592.8 260.8,592.8 261.4,592.8 262.1,592.8 262.8,592.8 263.4,592.8 264.1,592.8 264.7,592.8 265.4,592.8 266.1,592.8 266.7,592.8 267.4,592.8 268.0,592.8 268.7,592.8 269.3,592.8 270.0,592.8 270.7,592.8 271.3,592.8 272.0,592.8 272.6,592.8 273.3,592.8 274.0,592.8 274.6,592.8 275.3,592.8 275.9,592.8 276.6,592.8 277.3,592.8 277.9,592.8 278.6,592.8 279.2,592.8 279.9,592.8 280.6,592.8 281.2,592.8 281.9,592.8 282.5,592.8 283.2,592.8 283.8,592.8 284.5,592.8 285.2,592.8 285.8,592.8 286.5,592.8 287.1,592.8 287.8,592.8 288.5,592.8 289.1,592.8 289.8,592.1 290.4,591.6 291.1,591.6 291.8,591.6 292.4,591.6 293.1,591.6 293.7,591.6 294.4,591.6 295.1,591.6 295.7,591.6 296.4,591.6 297.0,591.6 297.7,591.6 298.4,591.6 299.0,591.6 299.7,591.6 300.3,591.6 301.0,591.6 301.6,591.6 302.3,591.6 303.0,591.6 303.6,591.6 304.3,591.6 304.9,591.6 305.6,591.6 306.3,591.6 306.9,591.5 307.6,591.5 308.2,591.5 308.9,591.5 309.6,591.5 310.2,591.5 310.9,591.4 311.5,591.3 312.2,591.0 312.9,590.5 313.5,590.1 314.2,589.9 314.8,589.8 315.5,589.8 316.1,589.5 316.8,589.3 317.5,589.0 318.1,588.8 318.8,588.6 319.4,588.5 320.1,588.4 320.8,588.3 321.4,588.0 322.1,587.7 322.7,587.5 323.4,587.3 324.1,587.2 324.7,587.1 325.4,586.9 326.0,586.6 326.7,586.3 327.4,586.0 328.0,585.8 328.7,585.7 329.3,585.5 330.0,585.3 330.7,584.9 331.3,584.7 332.0,584.4 332.6,584.1 333.3,584.0 333.9,583.8 334.6,583.6 335.3,583.3 335.9,582.8 336.6,582.7 337.2,582.3 337.9,582.3 338.6,582.2 339.2,581.9 339.9,581.6 340.5,581.4 341.2,581.0 341.9,580.9 342.5,580.7 343.2,580.6 343.8,580.4 344.5,580.1 345.2,579.8 345.8,579.4 346.5,579.2 347.1,579.0 347.8,578.9 348.5,578.6 349.1,578.3 349.8,578.0 350.4,577.6 351.1,577.4 351.7,577.1 352.4,577.0 353.1,576.8 353.7,576.4 354.4,576.0 355.0,575.7 355.7,575.3 356.4,575.2 357.0,575.1 357.7,574.8 358.3,574.4 359.0,574.0 359.7,573.6 360.3,573.4 361.0,573.2 361.6,573.1 362.3,572.7 363.0,572.4 363.6,572.0 364.3,571.6 364.9,571.4 365.6,571.1 366.2,571.1 366.9,570.8 367.6,570.5 368.2,570.2 368.9,569.9 369.5,569.6 370.2,569.5 370.9,569.4 371.5,569.2 372.2,568.8 372.8,568.5 373.5,568.2 374.2,568.0 374.8,567.8 375.5,567.8 376.1,567.6 376.8,567.3 377.5,567.0 378.1,566.8 378.8,566.7 379.4,566.6 380.1,566.5 380.8,566.3 381.4,566.1 382.1,565.9 382.7,565.8 383.4,565.6 384.0,565.6 384.7,565.5 385.4,565.4 386.0,565.2 386.7,565.1 387.3,565.0 388.0,564.8 388.7,564.8 389.3,564.7 390.0,564.6 390.6,564.5 391.3,564.3 392.0,564.2 392.6,564.1 393.3,564.0 393.9,564.0 394.6,564.0 395.3,563.8 395.9,563.7 396.6,563.6 397.2,563.5 397.9,563.5 398.6,563.5 399.2,563.3 399.9,563.2 400.5,563.1 401.2,562.9 401.8,562.8 402.5,562.7 403.2,562.7 403.8,562.5 404.5,562.3 405.1,562.2 405.8,561.9 406.5,561.8 407.1,561.6 407.8,561.6 408.4,561.3 409.1,561.2 409.8,560.9 410.4,560.6 411.1,560.4 411.7,560.2 412.4,560.2 413.1,560.0 413.7,559.7 414.4,559.4 415.0,559.2 415.7,558.9 416.3,558.8 417.0,558.7 417.7,558.5 418.3,558.2 419.0,558.0 419.6,557.6 420.3,557.4 421.0,557.4 421.6,557.2 422.3,556.9 422.9,556.7 423.6,556.4 424.3,556.2 424.9,555.9 425.6,555.7 426.2,555.6 426.9,555.5 427.6,555.0 428.2,554.8 428.9,554.4 429.5,554.2 430.2,554.0 430.9,553.9 431.5,553.7 432.2,553.3 432.8,552.9 433.5,552.7 434.1,552.4 434.8,552.3 435.5,552.2 436.1,551.9 436.8,551.6 437.4,551.3 438.1,551.0 438.8,550.8 439.4,550.5 440.1,550.4 440.7,550.1 441.4,549.8 442.1,549.5 442.7,549.1 443.4,549.0 444.0,548.9 444.7,548.7 445.4,548.5 446.0,548.2 446.7,548.0 447.3,547.9 448.0,547.8 448.6,547.7 449.3,547.7 450.0,547.6 450.6,547.4 451.3,547.3 451.9,547.2 452.6,547.2 453.3,547.1 453.9,547.1 454.6,547.0 455.2,546.9 455.9,546.8 456.6,546.8 457.2,546.7 457.9,546.7 458.5,546.7 459.2,546.7 459.9,546.6 460.5,546.6 461.2,546.5 461.8,546.5 462.5,546.5 463.2,546.5 463.8,546.5 464.5,546.5 465.1,546.5 465.8,546.5 466.4,546.4 467.1,546.4 467.8,546.4 468.4,546.4 469.1,546.4 469.7,546.3 470.4,546.0 471.1,545.7 471.7,545.5 472.4,545.5 473.0,545.5 473.7,545.5 474.4,545.5 475.0,545.5 475.7,545.5 476.3,545.5 477.0,545.5 477.7,545.5 478.3,545.5 479.0,545.5 479.6,545.5 480.3,545.5 481.0,545.5 481.6,545.5 482.3,545.5 482.9,545.5 483.6,545.5 484.2,545.5 484.9,545.5 485.6,545.5 486.2,545.5 486.9,545.5 487.5,545.5 488.2,545.5 488.9,545.5 489.5,545.4 490.2,545.4 490.8,545.4 491.5,545.4 492.2,545.4 492.8,545.4 493.5,545.4 494.1,545.3 494.8,545.3 495.5,545.3 496.1,545.3 496.8,545.2 497.4,545.2 498.1,545.1 498.7,545.1 499.4,545.1 500.1,545.1 500.7,545.0 501.4,544.9 502.0,544.9 502.7,544.8 503.4,544.8 504.0,544.8 504.7,544.7 505.3,544.7 506.0,544.6 506.7,544.5 507.3,544.4 508.0,544.3 508.6,544.3 509.3,544.3 510.0,544.2 510.6,544.1 511.3,544.0 511.9,543.9 512.6,543.8 513.3,543.8 513.9,543.7 514.6,543.6 515.2,543.5 515.9,543.4 516.5,543.3 517.2,543.2 517.9,543.1 518.5,543.0 519.2,542.9 519.8,542.8 520.5,542.6 521.2,542.5 521.8,542.3 522.5,542.3 523.1,542.2 523.8,542.1 524.5,542.0 525.1,541.8 525.8,541.7 526.4,541.6 527.1,541.5 527.8,541.4 528.4,541.4 529.1,541.2 529.7,541.1 530.4,540.9 531.0,540.8 531.7,540.7 532.4,540.6 533.0,540.6 533.7,540.4 534.3,540.3 535.0,540.1 535.7,540.0 536.3,539.9 537.0,539.8 537.6,539.7 538.3,539.6 539.0,539.4 539.6,539.2 540.3,539.1 540.9,539.0 541.6,539.0 542.3,538.8 542.9,538.7 543.6,538.5 544.2,538.4 544.9,538.2 545.6,538.2 546.2,538.1 546.9,538.0 547.5,537.8 548.2,537.6 548.8,537.4 549.5,537.2 550.2,537.2 550.8,537.1 551.5,536.9 552.1,536.7 552.8,536.4 553.5,536.2 554.1,535.9 554.8,535.8 555.4,535.8 556.1,535.6 556.8,535.2 557.4,535.0 558.1,534.6 558.7,534.4 559.4,534.3 560.1,534.3 560.7,534.0 561.4,533.7 562.0,533.4 562.7,533.1 563.4,532.8 564.0,532.7 564.7,532.6 565.3,532.3 566.0,531.9 566.6,531.6 567.3,531.2 568.0,530.8 568.6,530.6 569.3,530.4 569.9,530.1 570.6,529.6 571.3,529.3 571.9,528.9 572.6,528.6 573.2,528.5 573.9,528.3 574.6,528.0 575.2,527.4 575.9,526.9 576.5,526.3 577.2,525.8 577.9,525.6 578.5,525.2 579.2,524.9 579.8,524.2 580.5,523.3 581.1,522.4 581.8,521.8 582.5,521.2 583.1,521.1 583.8,520.2 584.4,519.4 585.1,518.3 585.8,517.2 586.4,516.1 587.1,515.6 587.7,515.1 588.4,514.3 589.1,513.5 589.7,512.4 590.4,511.6 591.0,510.8 591.7,510.2 592.4,510.1 593.0,509.3 593.7,508.3 594.3,507.7 595.0,507.3 595.7,506.8 596.3,506.4 597.0,506.2 597.6,505.8 598.3,505.4 598.9,504.9 599.6,504.5 600.3,503.9 600.9,503.7 601.6,503.3 602.2,503.1 602.9,502.3 603.6,501.7 604.2,501.0 604.9,500.5 605.5,500.2 606.2,500.0 606.9,499.4 607.5,499.0 608.2,498.5 608.8,497.8 609.5,497.4 610.2,497.1 610.8,496.9 611.5,496.6 612.1,495.8 612.8,494.8 613.4,493.7 614.1,492.4 614.8,491.9 615.4,491.2 616.1,490.0 616.7,488.3 617.4,485.5 618.1,483.4 618.7,482.7 619.4,482.1 620.0,481.4 620.7,480.5 621.4,479.1 622.0,477.5 622.7,475.6 623.3,474.6 624.0,473.3 624.7,472.2 625.3,471.2 626.0,469.5 626.6,467.0 627.3,465.5 628.0,464.1 628.6,463.2 629.3,462.3 629.9,460.2 630.6,456.9 631.2,452.3 631.9,449.7 632.6,447.7 633.2,446.7 633.9,446.5 634.5,443.3 635.2,439.5 635.9,434.3 636.5,431.8 637.2,428.5 637.8,427.9 638.5,426.0 639.2,423.1 639.8,420.4 640.5,417.1 641.1,413.9 641.8,412.3 642.5,410.3 643.1,409.6 643.8,406.8 644.4,405.0 645.1,401.9 645.8,398.1 646.4,396.2 647.1,394.0 647.7,393.0 648.4,390.8 649.0,387.1 649.7,384.3 650.4,381.2 651.0,378.3 651.7,376.7 652.3,376.3 653.0,373.9 653.7,370.3 654.3,366.9 655.0,364.6 655.6,362.2 656.3,361.0 657.0,359.9 657.6,356.9 658.3,353.8 658.9,348.3 659.6,344.7 660.3,342.4 660.9,340.0 661.6,339.9 662.2,336.0 662.9,332.2 663.5,329.0 664.2,324.4 664.9,321.9 665.5,320.1 666.2,319.1 666.8,315.1 667.5,311.5 668.2,308.9 668.8,305.0 669.5,302.3 670.1,300.5 670.8,299.4 671.5,295.9 672.1,292.8 672.8,290.8 673.4,289.7 674.1,288.3 674.8,287.4 675.4,286.6 676.1,284.4 676.7,281.0 677.4,278.7 678.1,276.8 678.7,274.5 679.4,273.7 680.0,272.7 680.7,271.6 681.3,269.6 682.0,268.0 682.7,266.1 683.3,265.0 684.0,264.3 684.6,264.2 685.3,262.9 686.0,261.8 686.6,260.1 687.3,258.6 687.9,257.0 688.6,256.4 689.3,256.0 689.9,254.9 690.6,253.9 691.2,252.2 691.9,250.9 692.6,249.3 693.2,248.9 693.9,248.5 694.5,247.7 695.2,246.6 695.8,245.5 696.5,244.7 697.2,244.0 697.8,243.8 698.5,243.5 699.1,242.9 699.8,242.1 700.5,241.5 701.1,240.7 701.8,240.3 702.4,240.0 703.1,239.8 703.8,239.5 704.4,239.0 705.1,238.3 705.7,237.8 706.4,237.3 707.1,237.0 707.7,236.9 708.4,236.3 709.0,235.7 709.7,235.1 710.4,234.6 711.0,234.0 711.7,233.6 712.3,233.2 713.0,232.9 713.6,231.7 714.3,231.1 715.0,229.7 715.6,229.0 716.3,228.3 716.9,228.0 717.6,226.8 718.3,225.2 718.9,224.0 719.6,222.6 720.2,221.9 720.9,221.2 721.6,220.9 722.2,220.1 722.9,218.6 723.5,217.8 724.2,216.3 724.9,215.3 725.5,215.1 726.2,214.5 726.8,213.2 727.5,212.1 728.2,210.4 728.8,208.4 729.5,207.4 730.1,206.1 730.8,206.2 731.4,204.5 732.1,203.1 732.8,201.2 733.4,199.4 734.1,198.1 734.7,196.9 735.4,196.7 736.1,194.8 736.7,192.8 737.4,191.3 738.0,190.0 738.7,188.6 739.4,188.3 740.0,187.7 740.7,186.9 741.3,185.2 742.0,183.7 742.7,182.6 743.3,181.3 744.0,180.3 744.6,179.9 745.3,179.1 745.9,177.6 746.6,176.2 747.3,174.7 747.9,173.5 748.6,172.9 749.2,172.8 749.9,172.0 750.6,170.8 751.2,169.9 751.9,169.2 752.5,168.6 753.2,168.4 753.9,168.0 754.5,167.3 755.2,166.4 755.8,165.5 756.5,164.7 757.2,163.6 757.8,163.5 758.5,163.1 759.1,162.3 759.8,161.8 760.5,161.0 761.1,160.3 761.8,159.8 762.4,159.6 763.1,159.6 763.7,159.1 764.4,158.4 765.1,158.0 765.7,157.4 766.4,157.0 767.0,156.8 767.7,156.8 768.4,156.4 769.0,155.8 769.7,155.5 770.3,154.9 771.0,154.7 771.7,154.4 772.3,154.2 773.0,153.9 773.6,153.2 774.3,152.6 775.0,152.2 775.6,151.7 776.3,151.3 776.9,151.3 777.6,150.7 778.2,150.2 778.9,149.5 779.6,148.9 780.2,148.1 780.9,147.8 781.5,147.5 782.2,147.2 782.9,146.5 783.5,145.3 784.2,144.9 784.8,144.0 785.5,143.8 786.2,143.2 786.8,142.7 787.5,141.7 788.1,140.4 788.8,139.0 789.5,137.8 790.1,137.3 790.8,137.0 791.4,135.6 792.1,133.8 792.8,132.5 793.4,131.2 794.1,130.2 794.7,130.2 795.4,129.6 796.0,128.5 796.7,127.4 797.4,126.1 798.0,124.3 798.7,122.8 799.3,121.9 800.0,121.2 800.7,120.3 801.3,118.9 802.0,117.6 802.6,116.3 803.3,115.0 804.0,114.9 804.6,114.3 805.3,113.6 805.9,112.4 806.6,111.2 807.3,110.3 807.9,109.3 808.6,108.7 809.2,108.4 809.9,108.2 810.6,107.4 811.2,106.9 811.9,106.4 812.5,106.0 813.2,105.8 813.8,105.6 814.5,105.1 815.2,104.8 815.8,104.2 816.5,103.8 817.1,103.5 817.8,103.3 818.5,103.1 819.1,102.8 819.8,102.4 820.4,101.9 821.1,101.5 821.8,101.2 822.4,101.0 823.1,100.8 823.7,100.6 824.4,100.2 825.1,99.7 825.7,99.2 826.4,98.8 827.0,98.5 827.7,98.4 828.3,98.1 829.0,97.5 829.7,97.1 830.3,96.4 831.0,96.0 831.6,95.9 832.3,95.6 833.0,95.2 833.6,94.8 834.3,94.2 834.9,93.5 835.6,93.0 836.3,92.8 836.9,92.7 837.6,92.3 838.2,91.8 838.9,91.3 839.6,90.9 840.2,90.5 840.9,90.3 841.5,90.2 842.2,89.9 842.9,89.6 843.5,89.1 844.2,88.6 844.8,88.3 845.5,88.3 846.1,88.0 846.8,87.7 847.5,87.4 848.1,86.9 848.8,86.6 849.3,86.5"/>
</g>
<rect x="167" y="595" width="689" height="6" fill="#868686" shape-rendering="crispEdges"/>
<text class="yl" x="144.1" y="56.1">40.000.000</text>
<text class="yl" x="144.1" y="124.1">35.000.000</text>
<text class="yl" x="144.1" y="193.1">30.000.000</text>
<text class="yl" x="144.1" y="261.1">25.000.000</text>
<text class="yl" x="144.1" y="329.1">20.000.000</text>
<text class="yl" x="144.1" y="398.1">15.000.000</text>
<text class="yl" x="144.1" y="466.1">10.000.000</text>
<text class="yl" x="144.1" y="535.1">5.000.000</text>
<text class="yl" x="144.1" y="603.1">0</text>
<text class="xl" transform="translate(172.90,645.6) rotate(-90)">23.03.</text>
<text class="xl" transform="translate(191.36,645.6) rotate(-90)">20.04.</text>
<text class="xl" transform="translate(209.81,645.6) rotate(-90)">18.05.</text>
<text class="xl" transform="translate(228.27,645.6) rotate(-90)">15.06.</text>
<text class="xl" transform="translate(246.73,645.6) rotate(-90)">14.07.</text>
<text class="xl" transform="translate(265.19,645.6) rotate(-90)">11.08.</text>
<text class="xl" transform="translate(283.64,645.6) rotate(-90)">08.09.</text>
<text class="xl" transform="translate(302.10,645.6) rotate(-90)">06.10.</text>
<text class="xl" transform="translate(320.56,645.6) rotate(-90)">03.11.</text>
<text class="xl" transform="translate(339.01,645.6) rotate(-90)">01.12.</text>
<text class="xl" transform="translate(357.47,645.6) rotate(-90)">29.12.</text>
<text class="xl" transform="translate(375.93,645.6) rotate(-90)">26.01.</text>
<text class="xl" transform="translate(394.38,645.6) rotate(-90)">23.02.</text>
<text class="xl" transform="translate(412.84,645.6) rotate(-90)">23.03.</text>
<text class="xl" transform="translate(431.30,645.6) rotate(-90)">20.04.</text>
<text class="xl" transform="translate(449.76,645.6) rotate(-90)">18.05.</text>
<text class="xl" transform="translate(468.21,645.6) rotate(-90)">15.06.</text>
<text class="xl" transform="translate(486.67,645.6) rotate(-90)">13.07.</text>
<text class="xl" transform="translate(505.13,645.6) rotate(-90)">10.08.</text>
<text class="xl" transform="translate(523.58,645.6) rotate(-90)">07.09.</text>
<text class="xl" transform="translate(542.04,645.6) rotate(-90)">05.10.</text>
<text class="xl" transform="translate(560.50,645.6) rotate(-90)">02.11.</text>
<text class="xl" transform="translate(578.95,645.6) rotate(-90)">30.11.</text>
<text class="xl" transform="translate(597.41,645.6) rotate(-90)">28.12.</text>
<text class="xl" transform="translate(615.87,645.6) rotate(-90)">25.01.</text>
<text class="xl" transform="translate(634.32,645.6) rotate(-90)">22.02.</text>
<text class="xl" transform="translate(652.78,645.6) rotate(-90)">22.03.</text>
<text class="xl" transform="translate(671.24,645.6) rotate(-90)">19.04.</text>
<text class="xl" transform="translate(689.70,645.6) rotate(-90)">17.05.</text>
<text class="xl" transform="translate(708.15,645.6) rotate(-90)">14.06.</text>
<text class="xl" transform="translate(726.61,645.6) rotate(-90)">12.07.</text>
<text class="xl" transform="translate(745.07,645.6) rotate(-90)">09.08.</text>
<text class="xl" transform="translate(763.52,645.6) rotate(-90)">06.09.</text>
<text class="xl" transform="translate(781.98,645.6) rotate(-90)">04.10.</text>
<text class="xl" transform="translate(800.44,645.6) rotate(-90)">01.11.</text>
<text class="xl" transform="translate(818.89,645.6) rotate(-90)">29.11.</text>
<text class="xl" transform="translate(837.35,645.6) rotate(-90)">27.12.</text>
<text class="xl" transform="translate(855.81,645.6) rotate(-90)">24.01.</text>
<line class="k" x1="879" y1="269" x2="907" y2="269" stroke="#4170A7"/>
<text class="lg" x="910.0" y="273.2" textLength="71.2" lengthAdjust="spacingAndGlyphs">Infizierte ges.</text>
<line class="k" x1="879" y1="294" x2="907" y2="294" stroke="#A8322E"/>
<text class="lg" x="910.0" y="298.2" textLength="69.4" lengthAdjust="spacingAndGlyphs">Neuinfizierte</text>
<line class="k" x1="879" y1="319" x2="907" y2="319" stroke="#6B22A6"/>
<text class="lg" x="910.0" y="323.2" textLength="67.5" lengthAdjust="spacingAndGlyphs">Verstorbene</text>
<line class="k" x1="879" y1="344" x2="907" y2="344" stroke="#FFC000"/>
<text class="lg" x="910.0" y="348.2" textLength="54.4" lengthAdjust="spacingAndGlyphs">Genesene</text>
<line class="k" x1="879" y1="369" x2="907" y2="369" stroke="#FF0000"/>
<text class="lg" x="910.0" y="373.2" textLength="87.6" lengthAdjust="spacingAndGlyphs">Aktuell Infizierte</text>
<line class="k" x1="879" y1="393" x2="907" y2="393" stroke="#000000"/>
<text class="lg" x="910.0" y="397.2" textLength="90.8" lengthAdjust="spacingAndGlyphs">Verstorbene ges.</text>
<line class="k" x1="879" y1="418" x2="907" y2="418" stroke="#00B050"/>
<text class="lg" x="910.0" y="422.2" textLength="77.4" lengthAdjust="spacingAndGlyphs">Genesene ges.</text>
</svg></body></html>
